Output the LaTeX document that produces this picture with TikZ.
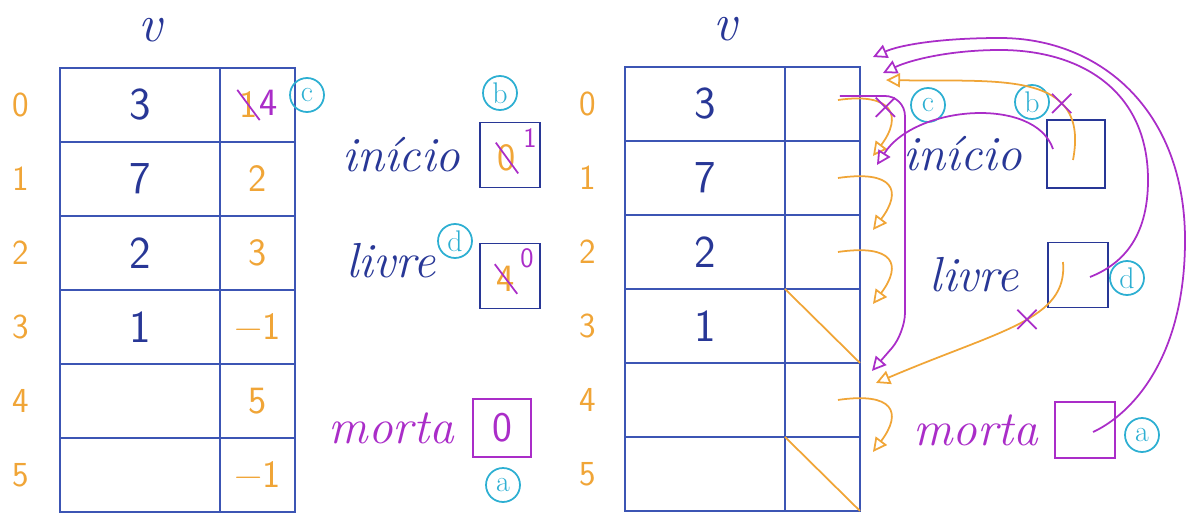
\documentclass[tikz,border=0pt]{standalone}
\usepackage{fontspec}
\usetikzlibrary{positioning, arrows.meta, shapes.misc}

\definecolor{inkblue}{RGB}{40,55,150}
\definecolor{gridblue}{RGB}{60,85,180}
\definecolor{inkorange}{RGB}{240,165,55}
\definecolor{inkpurple}{RGB}{170,45,200}
\definecolor{inkcyan}{RGB}{45,175,210}

\tikzstyle{valcell} = [
    rectangle,
    minimum width=3.2cm,
    minimum height=1.48cm,
    outer sep=0pt,
    draw=gridblue,
    line width=1pt,
    text=inkblue,
    font=\sffamily\fontsize{26}{30}\selectfont
]
\tikzstyle{ptrcell} = [
    rectangle,
    minimum width=1.5cm,
    minimum height=1.48cm,
    outer sep=0pt,
    draw=gridblue,
    line width=1pt,
    text=inkorange,
    font=\sffamily\fontsize{22}{26}\selectfont
]
\tikzstyle{idx} = [text=inkorange, font=\sffamily\fontsize{20}{24}\selectfont]
\tikzstyle{vname} = [text=inkblue, font=\itshape\fontsize{30}{34}\selectfont]
\tikzstyle{varname} = [text=inkblue, font=\itshape\fontsize{28}{32}\selectfont]
\tikzstyle{varbox} = [
    rectangle,
    minimum width=1.2cm,
    minimum height=1.3cm,
    draw=inkblue,
    line width=1pt
]
\tikzstyle{oldval} = [text=inkorange, inner sep=1pt, font=\sffamily\fontsize{22}{26}\selectfont]
\tikzstyle{newval} = [text=inkpurple, inner sep=1pt, font=\sffamily\fontsize{16}{18}\selectfont]
\tikzstyle{strike} = [draw=inkpurple, line width=1pt]
\tikzstyle{tag} = [
    circle,
    draw=inkcyan,
    text=inkcyan,
    line width=1pt,
    minimum size=0.68cm,
    inner sep=0pt,
    font=\fontsize{17}{18}\selectfont
]
\tikzstyle{xmark} = [cross out, draw=inkpurple, line width=1pt, minimum size=0.35cm, inner sep=0pt]
\tikzstyle{onull} = [draw=inkorange, line width=1pt]
\tikzstyle{oarrow} = [line width=1pt, draw=inkorange, -{Triangle[open,length=8pt,width=8pt]}]
\tikzstyle{parrow} = [line width=1pt, draw=inkpurple, -{Triangle[open,length=8pt,width=8pt]}]

\begin{document}
\begin{tikzpicture}[x=0.02cm, y=-0.02cm, node distance=0pt]

\useasboundingbox (0,0) rectangle (1189,520);

% ---- left: vector before ----
\node (lv0) [valcell] at (140,105) {3};
\node (lp0) [ptrcell, right=of lv0] {};
\node (lv1) [valcell, below=of lv0] {7};
\node (lp1) [ptrcell, right=of lv1] {2};
\node (lv2) [valcell, below=of lv1] {2};
\node (lp2) [ptrcell, right=of lv2] {3};
\node (lv3) [valcell, below=of lv2] {1};
\node (lp3) [ptrcell, right=of lv3] {−1};
\node (lv4) [valcell, below=of lv3] {};
\node (lp4) [ptrcell, right=of lv4] {5};
\node (lv5) [valcell, below=of lv4] {};
\node (lp5) [ptrcell, right=of lv5] {−1};

\node (vname1) [vname, above=0.4cm of lv0, xshift=0.2cm] {v};

\node (li0) [idx, left=0.5cm of lv0] {0};
\node (li1) [idx, left=0.5cm of lv1] {1};
\node (li2) [idx, left=0.5cm of lv2] {2};
\node (li3) [idx, left=0.5cm of lv3] {3};
\node (li4) [idx, left=0.5cm of lv4] {4};
\node (li5) [idx, left=0.5cm of lv5] {5};

\node (oldnx) [oldval] at ([shift={(-9,0)}]lp0.center) {1};
\node (newnx) [newval, font=\sffamily\fontsize{22}{26}\selectfont] at ([shift={(11,-2)}]lp0.center) {4};
\draw [strike] (oldnx.north west) -- (oldnx.south east);

\node (binicio1) [varbox] at (510,155) {};
\node (inicio1) [varname, left=0.25cm of binicio1] {início};
\node (oldini) [oldval] at ([shift={(-3,3)}]binicio1.center) {0};
\node (newini) [newval] at ([shift={(20,-17)}]binicio1.center) {1};
\draw [strike] (oldini.north west) -- (oldini.south east);

\node (blivre1) [varbox] at (510,276) {};
\node (livre1) [varname, left=0.75cm of blivre1, yshift=0.3cm] {livre};
\node (oldliv) [oldval] at ([shift={(-4,3)}]blivre1.center) {4};
\node (newliv) [newval] at ([shift={(17,-18)}]blivre1.center) {0};
\draw [strike] (oldliv.north west) -- (oldliv.south east);

\node (bmorta1) [varbox, draw=inkpurple, minimum width=1.15cm, minimum height=1.15cm] at (502,428) {};
\node (morta1) [varname, text=inkpurple, left=0.25cm of bmorta1] {morta};
\node (valmor) [newval, font=\sffamily\fontsize{24}{28}\selectfont] at (bmorta1.center) {0};

\node (tagc1) [tag] at (307,95) {c};
\node (tagb1) [tag] at (500,93) {b};
\node (tagd1) [tag] at (455,241) {d};
\node (taga1) [tag] at (503,485) {a};

% ---- right: vector as lists ----
\node (rv0) [valcell] at (705,104) {3};
\node (rp0) [ptrcell, right=of rv0] {};
\node (rv1) [valcell, below=of rv0] {7};
\node (rp1) [ptrcell, right=of rv1] {};
\node (rv2) [valcell, below=of rv1] {2};
\node (rp2) [ptrcell, right=of rv2] {};
\node (rv3) [valcell, below=of rv2] {1};
\node (rp3) [ptrcell, right=of rv3] {};
\node (rv4) [valcell, below=of rv3] {};
\node (rp4) [ptrcell, right=of rv4] {};
\node (rv5) [valcell, below=of rv4] {};
\node (rp5) [ptrcell, right=of rv5] {};

\node (vname2) [vname, above=0.4cm of rv0, xshift=0.4cm] {v};

\node (ri0) [idx, left=0.45cm of rv0] {0};
\node (ri1) [idx, left=0.45cm of rv1] {1};
\node (ri2) [idx, left=0.45cm of rv2] {2};
\node (ri3) [idx, left=0.45cm of rv3] {3};
\node (ri4) [idx, left=0.45cm of rv4] {4};
\node (ri5) [idx, left=0.45cm of rv5] {5};

\node (binicio2) [varbox, minimum width=1.16cm, minimum height=1.36cm] at (1076,154) {};
\node (inicio2) [varname, left=0.36cm of binicio2] {início};
\node (blivre2) [varbox] at (1078,275) {};
\node (livre2) [varname, left=0.44cm of blivre2] {livre};
\node (bmorta2) [varbox, draw=inkpurple, minimum width=1.2cm, minimum height=1.12cm] at (1085,430) {};
\node (morta2) [varname, text=inkpurple, left=0.2cm of bmorta2] {morta};

\node (tagc2) [tag] at (928,105) {c};
\node (tagb2) [tag] at (1032,102) {b};
\node (tagd2) [tag] at (1127,278) {d};
\node (taga2) [tag] at (1142,435) {a};

% null pointers
\draw [onull] (rp3.north west) -- (rp3.south east);
\draw [onull] (rp5.north west) -- (rp5.south east);

% old links (orange)
\draw [oarrow] ([shift={(-22,-4)}]rp0.east) .. controls +(55,-8) and +(30,-40) .. ([shift={(13,15)}]rp1.north east) node [xmark, pos=0.45] {};
\draw [oarrow] ([shift={(-22,0)}]rp1.east) .. controls +(55,-8) and +(30,-40) .. ([shift={(13,15)}]rp2.north east);
\draw [oarrow] ([shift={(-22,0)}]rp2.east) .. controls +(55,-8) and +(30,-40) .. ([shift={(13,15)}]rp3.north east);
\draw [oarrow] ([shift={(-22,0)}]rp4.east) .. controls +(55,-8) and +(30,-40) .. ([shift={(13,15)}]rp5.north east);
\draw [oarrow] ([shift={(-3,6)}]binicio2.center) .. controls +(17,-90) and +(114,2) .. ([shift={(26,13)}]rp0.north east) node [xmark, pos=0.3] {};
\draw [oarrow] ([shift={(-15,-13)}]blivre2.center) .. controls +(5,58) and +(124,-53) .. ([shift={(16,20)}]rp4.north east) node [xmark, pos=0.45] {};

% new links (purple)
\draw [parrow, rounded corners=0.4cm] ([shift={(-20,-8)}]rp0.east) -| ([shift={(45,-30)}]rp4.north east) -- ([shift={(12,8)}]rp4.north east);
\draw [parrow] ([shift={(-23,-5)}]binicio2.center) .. controls +(-18,-53) and +(38,-60) .. ([shift={(17,24)}]rp1.north east);
\draw [parrow] ([shift={(12,2)}]blivre2.center) .. controls (1120,265) and (1148,240) .. (1148,180) .. controls (1148,90) and (1080,50) .. (1000,50) .. controls (950,50) and (910,60) .. ([shift={(23,6)}]rp0.north east);
\draw [parrow] ([shift={(8,2)}]bmorta2.center) .. controls (1130,415) and (1185,360) .. (1185,240) .. controls (1185,110) and (1100,38) .. (1000,38) .. controls (940,38) and (900,45) .. ([shift={(13,-10)}]rp0.north east);

\end{tikzpicture}
\end{document}
